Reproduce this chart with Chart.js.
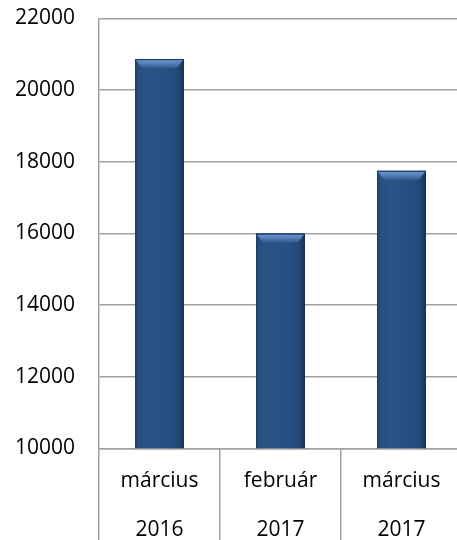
<!DOCTYPE html>
<html>
<head>
<meta charset="utf-8">
<script src="https://cdn.jsdelivr.net/npm/chart.js@4/dist/chart.umd.min.js"></script>
<style>
html,body{margin:0;padding:0;background:#fff;overflow:hidden;}
#wrap{width:462px;height:540px;position:relative;}
</style>
</head>
<body>
<div id="wrap"><canvas id="c"></canvas></div>
<script>
const categories = [["március","2016"],["február","2017"],["március","2017"]];
const values = [20870, 16000, 17750];
const yTicks = [10000, 12000, 14000, 16000, 18000, 20000, 22000];

const FONT = "'Open Sans', sans-serif";
const GRID = "#a2a2a2";

const bevelPlugin = {
  id: 'bevel',
  afterDatasetDraw(chart, args) {
    const meta = args.meta;
    const ctx = chart.ctx;
    const area = chart.chartArea;
    meta.data.forEach(bar => {
      const p = bar.getProps(['x','y','base','width'], true);
      const l = p.x - p.width/2, r = p.x + p.width/2;
      const t = Math.max(p.y, area.top), b = Math.min(p.base, area.bottom);
      const w = r - l;
      ctx.save();
      const g = ctx.createLinearGradient(l, 0, r, 0);
      g.addColorStop(0, '#1b3c69');
      g.addColorStop(0.06, '#26507f');
      g.addColorStop(0.3, '#2a5486');
      g.addColorStop(0.75, '#264f80');
      g.addColorStop(0.9, '#21466f');
      g.addColorStop(1, '#152f56');
      ctx.fillStyle = g;
      ctx.fillRect(l, t, w, b - t);
      const bh = 9, inset = 6;
      const vg = ctx.createLinearGradient(0, t, 0, t + bh);
      vg.addColorStop(0, '#6d96cd');
      vg.addColorStop(0.4, '#5c86c0');
      vg.addColorStop(1, '#2f5b92');
      ctx.fillStyle = vg;
      ctx.beginPath();
      ctx.moveTo(l + 1, t + 1);
      ctx.lineTo(r - 1, t + 1);
      ctx.lineTo(r - 1 - inset, t + bh);
      ctx.lineTo(l + 1 + inset, t + bh);
      ctx.closePath();
      ctx.fill();
      ctx.fillStyle = '#1f4069';
      ctx.fillRect(l, t, w, 1.2);
      ctx.restore();
    });
  }
};

new Chart(document.getElementById('c'), {
  type: 'bar',
  data: {
    labels: categories,
    datasets: [{
      data: values,
      backgroundColor: 'rgba(0,0,0,0)',
      borderWidth: 0,
      barPercentage: 0.405,
      categoryPercentage: 1.0
    }]
  },
  options: {
    responsive: true,
    maintainAspectRatio: false,
    animation: false,
    layout: { padding: { top: 0, right: 0, left: 0, bottom: 0 } },
    plugins: { legend: { display: false }, tooltip: { enabled: false } },
    scales: {
      x: {
        offset: true,
        grid: {
          offset: true,
          drawOnChartArea: false,
          drawTicks: true,
          tickLength: 92,
          color: GRID,
          lineWidth: 1.5
        },
        border: { display: true, color: GRID, width: 1.5 },
        ticks: {
          color: '#000',
          padding: -83,
          font: { family: FONT, size: 21, lineHeight: 2.3 },
          maxRotation: 0,
          autoSkip: false
        },
        afterFit: (s) => { s.height = 91.7; s.paddingTop = 0; s.paddingBottom = 0; }
      },
      y: {
        min: yTicks[0],
        max: yTicks[yTicks.length - 1],
        afterBuildTicks: (s) => { s.ticks = yTicks.map(v => ({ value: v })); },
        grid: { color: GRID, lineWidth: 1.5, drawTicks: false },
        border: { display: true, color: GRID, width: 1.5 },
        ticks: {
          color: '#000',
          padding: 24,
          font: { family: FONT, size: 21 },
          callback: (v) => String(v)
        },
        afterFit: (s) => { s.width = 99; s.paddingTop = 18.5; s.paddingBottom = 0; }
      }
    }
  },
  plugins: [bevelPlugin]
});
</script>
</body>
</html>
